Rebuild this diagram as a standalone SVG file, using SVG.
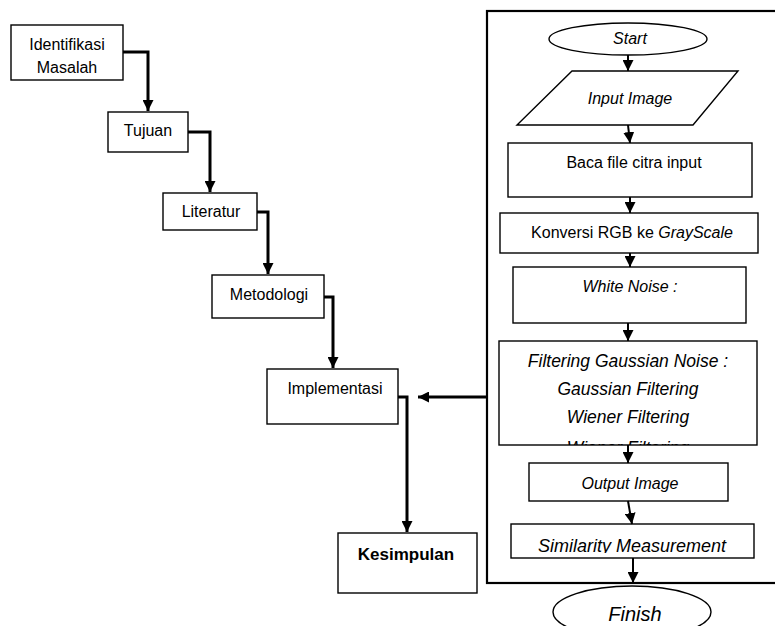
<svg xmlns="http://www.w3.org/2000/svg" width="775" height="626" viewBox="0 0 775 626">
<style>
.box{fill:#fff;stroke:#000;stroke-width:1.4}
.t{font-family:"Liberation Sans",Arial,sans-serif;font-size:16px;fill:#000;text-anchor:middle}
.i{font-style:italic}
.b{font-weight:bold;font-size:17px}
.lc{fill:none;stroke:#000;stroke-width:3}
.rc{fill:none;stroke:#000;stroke-width:2}
</style>
<defs>
<marker id="ah" markerUnits="userSpaceOnUse" markerWidth="11" markerHeight="11" refX="10" refY="5" orient="auto" viewBox="0 0 10 10">
<path d="M0,0 L10,5 L0,10 z" fill="#000"/>
</marker>
<clipPath id="cf"><rect x="499" y="341" width="258" height="104"/></clipPath>
<clipPath id="cs"><rect x="511" y="524" width="243" height="29"/></clipPath>
</defs>
<rect x="0" y="0" width="775" height="626" fill="#fff"/>
<g id="container"><rect x="487" y="11" width="300" height="572" fill="none" stroke="#000" stroke-width="2.2"/></g>
<g id="n-identifikasi"><rect class="box" x="11" y="25" width="112" height="55"/><text class="t" x="67" y="50">Identifikasi</text><text class="t" x="67" y="73">Masalah</text></g>
<g id="n-tujuan"><rect class="box" x="108" y="112" width="80" height="40"/><text class="t" x="148" y="136">Tujuan</text></g>
<g id="n-literatur"><rect class="box" x="163" y="193" width="94" height="37"/><text class="t" x="211" y="217">Literatur</text></g>
<g id="n-metodologi"><rect class="box" x="212" y="275" width="112" height="43"/><text class="t" x="269" y="300">Metodologi</text></g>
<g id="n-implementasi"><rect class="box" x="267" y="369" width="131" height="55"/><text class="t" x="335" y="394">Implementasi</text></g>
<g id="n-kesimpulan"><rect class="box" x="338" y="533" width="139" height="60"/><text class="t b" x="406" y="560">Kesimpulan</text></g>
<g id="n-start"><ellipse class="box" cx="628" cy="39" rx="79" ry="16"/><text class="t i" x="630" y="44">Start</text></g>
<g id="n-input"><polygon class="box" points="572,71 738,71 693,125 517,125"/><text class="t i" x="630" y="104">Input Image</text></g>
<g id="n-baca"><rect class="box" x="508" y="143" width="244" height="54"/><text class="t" x="634" y="168">Baca file citra input</text></g>
<g id="n-konversi"><rect class="box" x="500" y="213" width="258" height="40"/><text class="t" x="632" y="238">Konversi RGB ke <tspan class="i">GrayScale</tspan></text></g>
<g id="n-whitenoise"><rect class="box" x="513" y="267" width="233" height="56"/><text class="t i" x="630" y="292">White Noise :</text></g>
<g id="n-filtering"><rect class="box" x="499" y="341" width="258" height="104"/>
<g clip-path="url(#cf)" class="t i" style="font-size:17.5px">
<text x="628" y="367">Filtering Gaussian Noise :</text>
<text x="628" y="395">Gaussian Filtering</text>
<text x="628" y="423">Wiener Filtering</text>
<text x="628" y="454">Wiener Filtering</text>
</g></g>
<g id="n-output"><rect class="box" x="529" y="463" width="199" height="38"/><text class="t i" x="630" y="489">Output Image</text></g>
<g id="n-similarity"><rect class="box" x="511" y="524" width="243" height="34"/><text class="t i" clip-path="url(#cs)" x="632" y="552" style="font-size:18px">Similarity Measurement</text></g>
<g id="n-finish"><ellipse class="box" cx="632" cy="612" rx="79" ry="26"/><text class="t i" x="635" y="621" style="font-size:20px">Finish</text></g>
<g id="connectors">
<path class="lc" d="M123,52 H148 V111" marker-end="url(#ah)"/>
<path class="lc" d="M188,132 H210 V192" marker-end="url(#ah)"/>
<path class="lc" d="M257,212 H268 V274" marker-end="url(#ah)"/>
<path class="lc" d="M324,297 H333 V368" marker-end="url(#ah)"/>
<path class="lc" d="M398,397 H407 V532" marker-end="url(#ah)"/>
<path class="lc" d="M487,397 H418" marker-end="url(#ah)"/>
<path class="rc" d="M628,55 V71" marker-end="url(#ah)"/>
<path class="rc" d="M628,125 L630,143" marker-end="url(#ah)"/>
<path class="rc" d="M630,197 V213" marker-end="url(#ah)"/>
<path class="rc" d="M630,253 V267" marker-end="url(#ah)"/>
<path class="rc" d="M628,323 V341" marker-end="url(#ah)"/>
<path class="rc" d="M628,445 V463" marker-end="url(#ah)"/>
<path class="rc" d="M628,501 L632,524" marker-end="url(#ah)"/>
<path class="rc" d="M633,558 V583" marker-end="url(#ah)"/>
</g>
</svg>
